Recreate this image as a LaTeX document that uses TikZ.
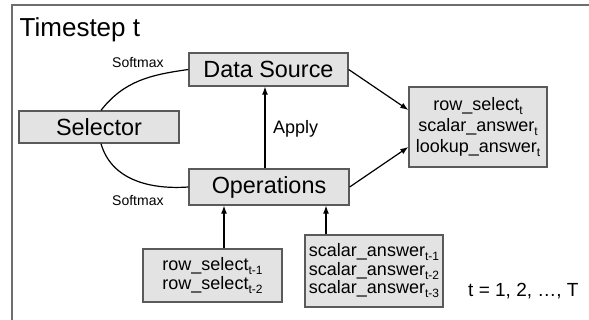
\documentclass[tikz,border=0pt]{standalone}
\usepackage{fontspec}
\setmainfont{Liberation Sans}
\usetikzlibrary{arrows.meta}
\definecolor{boxfill}{HTML}{E3E3E3}
\definecolor{boxline}{HTML}{5A5A5A}
\definecolor{frameline}{HTML}{6E6E6E}
\newcommand{\lowsub}[1]{\raisebox{-0.22em}{\fontsize{12}{12}\selectfont #1}}
\tikzset{
  box/.style={draw=boxline, fill=boxfill, line width=1.3pt, inner sep=0pt, align=center},
  bigbox/.style={box, font=\fontsize{23.4}{26}\selectfont},
  listbox/.style={box, font=\fontsize{18}{21}\selectfont},
  smallbox/.style={box, font=\fontsize{18}{18.5}\selectfont},
  conn/.style={line width=1.2pt, black},
  arr/.style={conn, -{Latex[length=8pt,width=6pt]}},
  lbl/.style={inner sep=0pt, anchor=base west}
}
\begin{document}
\begin{tikzpicture}[x=1pt,y=-1pt]
\useasboundingbox (0,0) rectangle (589,320);
\fill[white] (0,0) rectangle (589,320);
\draw[frameline, line width=1.5pt] (12,320) -- (12,5) -- (589,5);
\node[lbl, font=\fontsize{26}{30}\selectfont] (title) at (19.5,37) {Timestep t};

\node[bigbox, minimum width=159pt, minimum height=33pt] (ds) at (268.5,69.5) {Data Source};
\node[bigbox, minimum width=160pt, minimum height=32pt] (sel) at (99,127) {Selector};
\node[bigbox, minimum width=160pt, minimum height=36pt] (ops) at (269,187) {Operations};
\node[listbox, minimum width=138pt, minimum height=80pt] (out) at (478,127)
  {row\_select\lowsub{t}\\scalar\_answer\lowsub{t}\\lookup\_answer\lowsub{t}};
\node[smallbox, minimum width=139pt, minimum height=53pt] (rs) at (212.5,275.5)
  {row\_select\lowsub{t-1}\\row\_select\lowsub{t-2}};
\node[smallbox, minimum width=138pt, minimum height=72pt] (sa) at (374,271)
  {scalar\_answer\lowsub{t-1}\\scalar\_answer\lowsub{t-2}\\scalar\_answer\lowsub{t-3}};

\node[lbl, font=\fontsize{18}{20}\selectfont] (apply) at (273,134) {Apply};
\node[lbl, font=\fontsize{14}{16}\selectfont] (sm1) at (112,68) {Softmax};
\node[lbl, font=\fontsize{14}{16}\selectfont] (sm2) at (112,206) {Softmax};
\node[lbl, font=\fontsize{19}{21}\selectfont] (trange) at (468,297) {t = 1, 2, …, T};

\draw[conn] ([xshift=2pt]sel.north) to[out=52, in=188] (ds.west);
\draw[conn] ([xshift=2pt]sel.south) to[out=-74, in=184] (ops.west);
\draw[arr] ([xshift=-4pt]ops.north) -- ([xshift=-4pt]ops.north |- ds.south);
\draw[arr] (ds.east) -- ([yshift=17pt]out.west);
\draw[arr] (ops.east) -- ([yshift=-20pt]out.west);
\draw[arr] ([xshift=11.5pt]rs.north) -- ([xshift=11.5pt]rs.north |- ops.south);
\draw[arr] ([xshift=-48pt]sa.north) -- ([xshift=-48pt]sa.north |- ops.south);
\end{tikzpicture}
\end{document}
